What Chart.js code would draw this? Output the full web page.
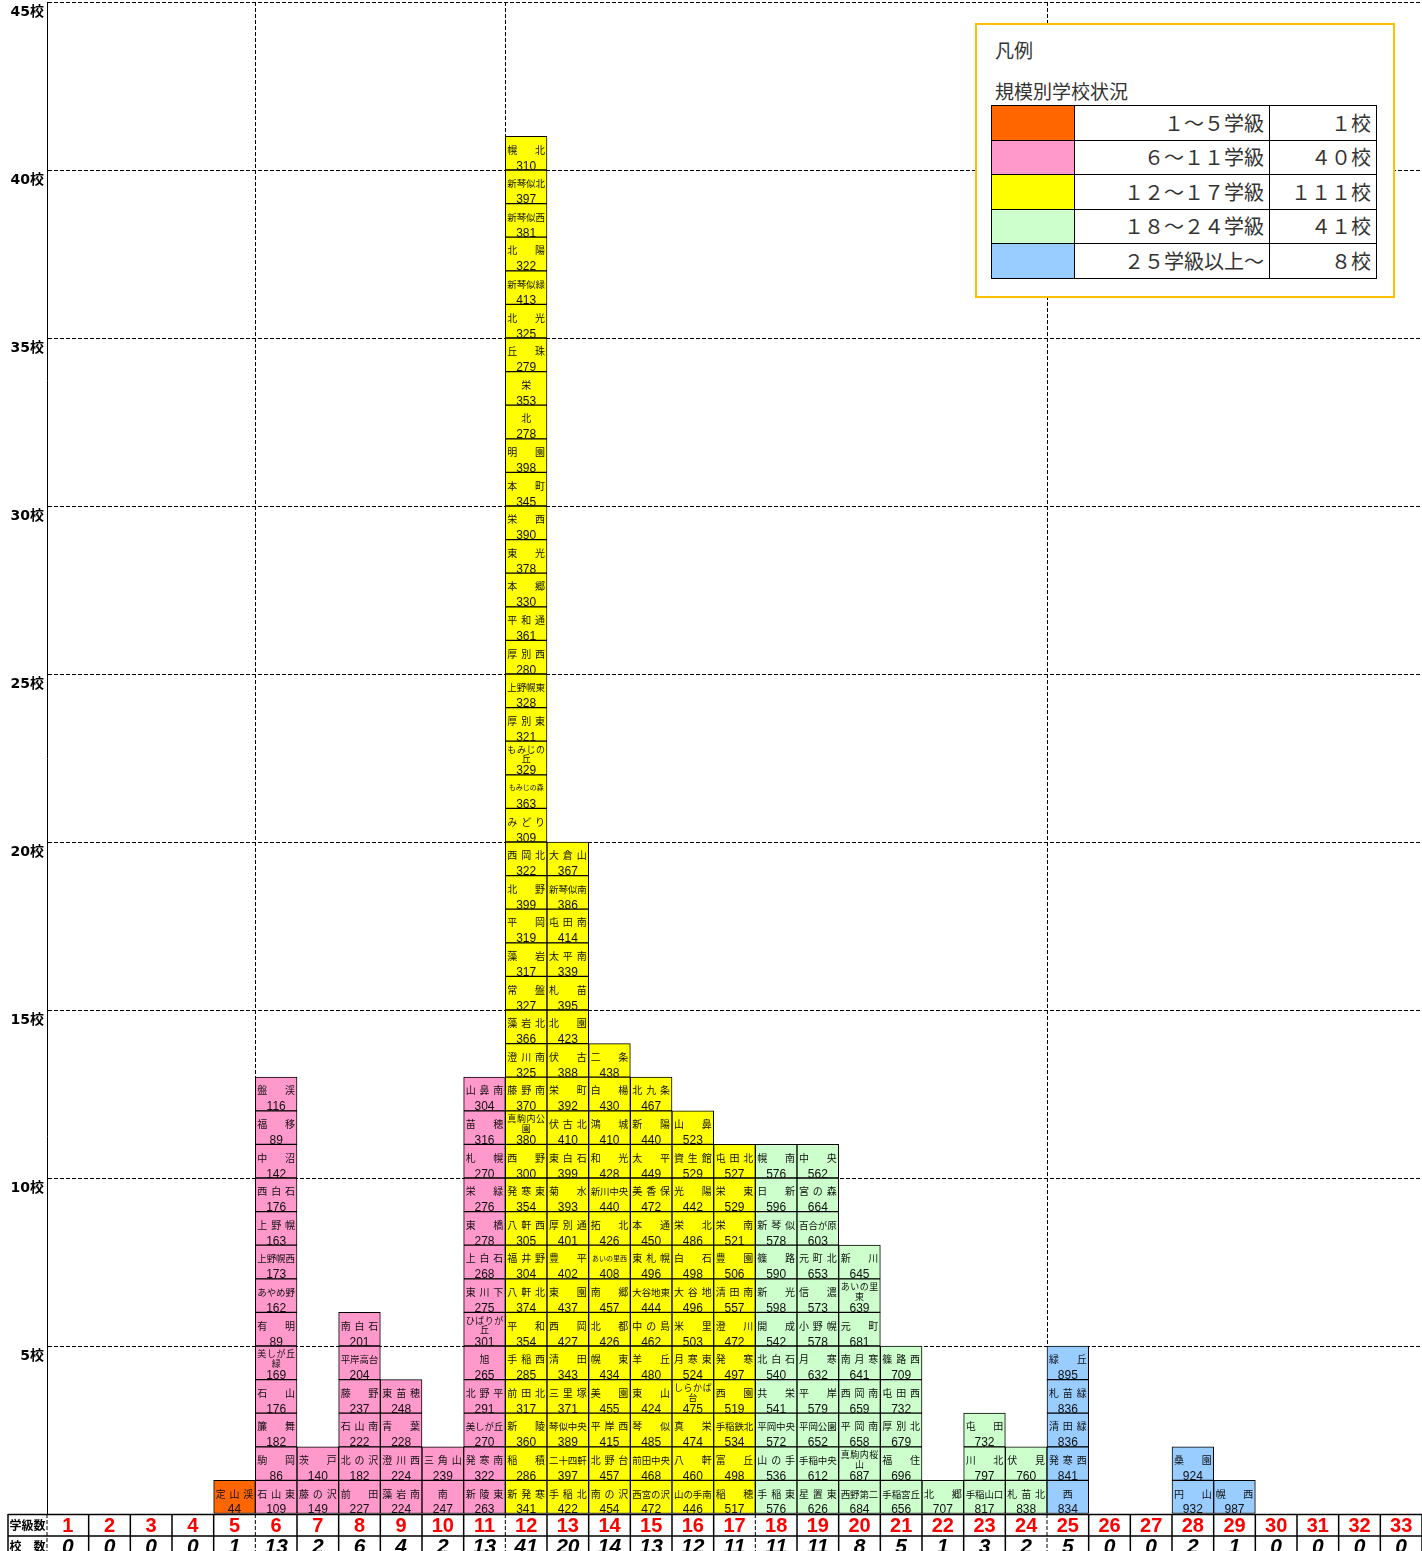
<!DOCTYPE html>
<html lang="ja">
<head>
<meta charset="utf-8">
<title>規模別学校状況</title>
<script src="https://cdn.jsdelivr.net/npm/chart.js@4.4.1/dist/chart.umd.min.js"></script>
<style>
  body { margin: 0; background: #fff; }
  #wrap { position: relative; width: 1422px; height: 1551px; overflow: hidden; }
  #legendBox {
    position: absolute; left: 975px; top: 23px; width: 416px; height: 271px;
    border: 2px solid #FFC000; background: #fff;
    font-family: 'Noto Sans CJK JP', sans-serif; color: #333;
  }
  #legendBox .ttl { position: absolute; left: 18px; font-size: 19px; line-height: 19px; }
  #legendTable {
    position: absolute; left: 14px; top: 80px; border-collapse: collapse;
    font-size: 20px;
  }
  #legendTable td { border: 1.5px solid #000; height: 33.5px; padding: 0 5px; text-align: right; line-height: 20px; }
  #legendTable td.sw { width: 82px; padding: 0; }
  #legendTable td.lab { width: 184px; }
  #legendTable td.cnt { width: 96px; }
</style>
</head>
<body>
<div id="wrap">
  <canvas id="chart" width="1422" height="1551"></canvas>
  <div id="legendBox">
    <div class="ttl" style="top:15px">凡例</div>
    <div class="ttl" style="top:56px">規模別学校状況</div>
    <table id="legendTable"></table>
  </div>
</div>
<script>
// 学級数 (横軸のカテゴリ)
const classLabels = ['1','2','3','4','5','6','7','8','9','10','11','12','13','14','15','16','17',
  '18','19','20','21','22','23','24','25','26','27','28','29','30','31','32','33'];

// 学級数ごとの学校名と児童数 (下から上へ)
const names5 = ['定山渓'];
const pupils5 = [44];
const names6 = ['石山東','駒岡','簾舞','石山','美しが丘\n緑','有明','あやめ野','上野幌西','上野幌','西白石','中沼','福移','盤渓'];
const pupils6 = [109, 86, 182, 176, 169, 89, 162, 173, 163, 176, 142, 89, 116];
const names7 = ['藤の沢','茨戸'];
const pupils7 = [149, 140];
const names8 = ['前田','北の沢','石山南','藤野','平岸高台','南白石'];
const pupils8 = [227, 182, 222, 237, 204, 201];
const names9 = ['藻岩南','澄川西','青葉','東苗穂'];
const pupils9 = [224, 224, 228, 248];
const names10 = ['南','三角山'];
const pupils10 = [247, 239];
const names11 = ['新陵東','発寒南','美しが丘','北野平','旭','ひばりが\n丘','東川下','上白石','東橋','栄緑','札幌','苗穂','山鼻南'];
const pupils11 = [263, 322, 270, 291, 265, 301, 275, 268, 278, 276, 270, 316, 304];
const names12 = ['新発寒','稲積','新陵','前田北','手稲西','平和','八軒北','福井野','八軒西','発寒東','西野',
  '真駒内公\n園','藤野南','澄川南','藻岩北','常盤','藻岩','平岡','北野','西岡北','みどり','もみじの森',
  'もみじの\n丘','厚別東','上野幌東','厚別西','平和通','本郷','東光','栄西','本町','明園','北','栄','丘珠',
  '北光','新琴似緑','北陽','新琴似西','新琴似北','幌北'];
const pupils12 = [341, 286, 360, 317, 285, 354, 374, 304, 305, 354, 300, 380, 370, 325, 366, 327, 317, 319,
  399, 322, 309, 363, 329, 321, 328, 280, 361, 330, 378, 390, 345, 398, 278, 353, 279, 325, 413, 322, 381, 397, 310];
const names13 = ['手稲北','二十四軒','琴似中央','三里塚','清田','西岡','東園','豊平','厚別通','菊水','東白石',
  '伏古北','栄町','伏古','北園','札苗','太平南','屯田南','新琴似南','大倉山'];
const pupils13 = [422, 397, 389, 371, 343, 427, 437, 402, 401, 393, 399, 410, 392, 388, 423, 395, 339, 414, 386, 367];
const names14 = ['南の沢','北野台','平岸西','美園','幌東','北都','南郷','あいの里西','拓北','新川中央','和光','鴻城','白楊','二条'];
const pupils14 = [454, 457, 415, 455, 434, 426, 457, 408, 426, 440, 428, 410, 430, 438];
const names15 = ['西宮の沢','前田中央','琴似','東山','羊丘','中の島','大谷地東','東札幌','本通','美香保','太平','新陽','北九条'];
const pupils15 = [472, 468, 485, 424, 480, 462, 444, 496, 450, 472, 449, 440, 467];
const names16 = ['山の手南','八軒','真栄','しらかば\n台','月寒東','米里','大谷地','白石','栄北','光陽','資生館','山鼻'];
const pupils16 = [446, 460, 474, 475, 524, 503, 496, 498, 486, 442, 529, 523];
const names17 = ['稲穂','富丘','手稲鉄北','西園','発寒','澄川','清田南','豊園','栄南','栄東','屯田北'];
const pupils17 = [517, 498, 534, 519, 497, 472, 557, 506, 521, 529, 527];
const names18 = ['手稲東','山の手','平岡中央','共栄','北白石','開成','新光','篠路','新琴似','日新','幌南'];
const pupils18 = [576, 536, 572, 541, 540, 542, 598, 590, 578, 596, 576];
const names19 = ['星置東','手稲中央','平岡公園','平岸','月寒','小野幌','信濃','元町北','百合が原','宮の森','中央'];
const pupils19 = [626, 612, 652, 579, 632, 578, 573, 653, 603, 664, 562];
const names20 = ['西野第二','真駒内桜\n山','平岡南','西岡南','南月寒','元町','あいの里\n東','新川'];
const pupils20 = [684, 687, 658, 659, 641, 681, 639, 645];
const names21 = ['手稲宮丘','福住','厚別北','屯田西','篠路西'];
const pupils21 = [656, 696, 679, 732, 709];
const names22 = ['北郷'];
const pupils22 = [707];
const names23 = ['手稲山口','川北','屯田'];
const pupils23 = [817, 797, 732];
const names24 = ['札苗北','伏見'];
const pupils24 = [838, 760];
const names25 = ['西','発寒西','清田緑','札苗緑','緑丘'];
const pupils25 = [834, 841, 836, 836, 895];
const names28 = ['円山','桑園'];
const pupils28 = [932, 924];
const names29 = ['幌西'];
const pupils29 = [987];

// 凡例
const legendColors = ['#FF6600', '#FF99CC', '#FFFF00', '#CCFFCC', '#99CCFF'];
const legendLabels = ['１～５学級', '６～１１学級', '１２～１７学級', '１８～２４学級', '２５学級以上～'];
const legendCounts = ['１校', '４０校', '１１１校', '４１校', '８校'];

const namesByClass = { 5: names5, 6: names6, 7: names7, 8: names8, 9: names9, 10: names10, 11: names11,
  12: names12, 13: names13, 14: names14, 15: names15, 16: names16, 17: names17, 18: names18, 19: names19,
  20: names20, 21: names21, 22: names22, 23: names23, 24: names24, 25: names25, 28: names28, 29: names29 };
const pupilsByClass = { 5: pupils5, 6: pupils6, 7: pupils7, 8: pupils8, 9: pupils9, 10: pupils10, 11: pupils11,
  12: pupils12, 13: pupils13, 14: pupils14, 15: pupils15, 16: pupils16, 17: pupils17, 18: pupils18, 19: pupils19,
  20: pupils20, 21: pupils21, 22: pupils22, 23: pupils23, 24: pupils24, 25: pupils25, 28: pupils28, 29: pupils29 };

const columns = classLabels.map(l => ({ names: namesByClass[l] || [], pupils: pupilsByClass[l] || [] }));
const schoolCounts = columns.map(c => c.names.length);

function groupColor(cls) {
  if (cls <= 5) return legendColors[0];
  if (cls <= 11) return legendColors[1];
  if (cls <= 17) return legendColors[2];
  if (cls <= 24) return legendColors[3];
  return legendColors[4];
}

// one stacked dataset per level: each school is one unit cell
const maxLevel = Math.max(...schoolCounts);
const datasets = [];
for (let k = 0; k < maxLevel; k++) {
  datasets.push({
    data: columns.map(c => (k < c.names.length ? 1 : null)),
    backgroundColor: classLabels.map(l => groupColor(+l)),
    borderColor: '#000',
    borderWidth: 1,
    borderSkipped: false,
    barPercentage: 1,
    categoryPercentage: 1
  });
}

// legend table
const lt = document.getElementById('legendTable');
legendLabels.forEach((lab, i) => {
  const tr = document.createElement('tr');
  tr.innerHTML = '<td class="sw" style="background:' + legendColors[i] + '"></td><td class="lab">' + lab +
    '</td><td class="cnt">' + legendCounts[i] + '</td>';
  lt.appendChild(tr);
});

// spread characters over the cell width, like distributed alignment
function spreadText(ctx, text, left, w, cy) {
  const chars = [...text];
  if (chars.length === 1) {
    ctx.fillText(text, left + w / 2, cy);
    return;
  }
  const pad = 2;
  const cw = ctx.measureText(chars[0]).width;
  const span = w - 2 * pad - cw;
  chars.forEach((c, j) => {
    ctx.fillText(c, left + pad + cw / 2 + span * j / (chars.length - 1), cy);
  });
}

const cellLabels = {
  id: 'cellLabels',
  afterDatasetsDraw(chart) {
    const ctx = chart.ctx;
    ctx.save();
    ctx.fillStyle = '#111';
    ctx.textAlign = 'center';
    chart.data.datasets.forEach((ds, k) => {
      const meta = chart.getDatasetMeta(k);
      meta.data.forEach((bar, i) => {
        if (ds.data[i] == null) return;
        const name = columns[i].names[k];
        const pupils = columns[i].pupils[k];
        const p = bar.getProps(['x', 'y', 'base', 'width'], true);
        const top = Math.min(p.y, p.base);
        const bottom = Math.max(p.y, p.base);
        const left = p.x - p.width / 2;
        const lines = name.split('\n');
        ctx.textBaseline = 'middle';
        if (lines.length > 1) {
          ctx.font = '9px "Noto Sans CJK JP", sans-serif';
          spreadText(ctx, lines[0], left, p.width, top + 8);
          spreadText(ctx, lines[1], left, p.width, top + 17.5);
        } else if ([...name].length >= 5) {
          ctx.font = '7px "Noto Sans CJK JP", sans-serif';
          ctx.fillText(name, p.x, top + 13);
        } else {
          const n = [...name].length;
          ctx.font = (n >= 4 ? '9.5px' : '10px') + ' "Noto Sans CJK JP", sans-serif';
          spreadText(ctx, name, left, p.width, top + 13.5);
        }
        ctx.textBaseline = 'alphabetic';
        ctx.font = '12px "Liberation Sans", Arial, sans-serif';
        ctx.fillText(String(pupils), p.x, bottom - 0.5);
      });
    });
    ctx.restore();
  }
};

// 学級数 / 校数 table under the plot
const countTable = {
  id: 'countTable',
  afterDraw(chart) {
    const ctx = chart.ctx;
    const x = chart.scales.x;
    const area = chart.chartArea;
    const top = area.bottom;
    const mid = top + 22;
    const bottom = chart.height + 2;
    const step = (area.right - area.left) / classLabels.length;
    const tableLeft = 8;
    ctx.save();
    ctx.strokeStyle = '#000';
    ctx.lineWidth = 1.5;
    ctx.beginPath();
    ctx.moveTo(tableLeft, top + 0.5); ctx.lineTo(area.right, top + 0.5);
    ctx.moveTo(tableLeft, mid); ctx.lineTo(area.right, mid);
    ctx.moveTo(tableLeft, top); ctx.lineTo(tableLeft, bottom);
    ctx.stroke();
    const dashed = [5, 11, 17, 24];
    for (let i = 0; i <= classLabels.length; i++) {
      const bx = x.getPixelForValue(i) - step / 2;
      ctx.setLineDash(i === 0 || dashed.includes(i) ? [4, 2] : []);
      ctx.lineWidth = dashed.includes(i) || i === 0 ? 1 : 1.5;
      ctx.beginPath();
      ctx.moveTo(bx, top); ctx.lineTo(bx, bottom);
      ctx.stroke();
    }
    ctx.setLineDash([]);
    ctx.fillStyle = '#000';
    ctx.textAlign = 'center';
    ctx.textBaseline = 'middle';
    ctx.font = 'bold 12px "Noto Sans CJK JP", sans-serif';
    ctx.fillText('学級数', (tableLeft + area.left) / 2, top + 11);
    ctx.fillText('校　数', (tableLeft + area.left) / 2, mid + 10);
    ctx.font = 'italic bold 21px "Liberation Sans", Arial, sans-serif';
    ctx.textBaseline = 'top';
    schoolCounts.forEach((c, i) => {
      ctx.fillText(String(c), x.getPixelForValue(i), mid + 1);
    });
    ctx.restore();
  }
};

new Chart(document.getElementById('chart'), {
  type: 'bar',
  data: { labels: classLabels, datasets: datasets },
  options: {
    responsive: false,
    animation: false,
    layout: { padding: { top: 2, right: 0, left: 0, bottom: 0 } },
    plugins: { legend: { display: false }, tooltip: { enabled: false } },
    scales: {
      x: {
        stacked: true,
        offset: true,
        grid: {
          offset: true,
          drawTicks: false,
          lineWidth: 1,
          color: ctx => ([5, 11, 24].includes(ctx.index) ? '#000' : 'rgba(0,0,0,0)')
        },
        border: { display: false, dash: [4, 2] },
        ticks: {
          color: '#FF0000',
          font: { size: 20, weight: 'bold', family: '"Liberation Sans", Arial, sans-serif' },
          padding: 0,
          autoSkip: false,
          maxRotation: 0
        },
        afterFit: s => { s.height = 37; s.paddingLeft = 0; s.paddingRight = 0; }
      },
      y: {
        stacked: true,
        min: 0,
        max: 45,
        grid: { color: '#000', lineWidth: 1, drawTicks: false },
        border: { display: true, color: '#000', width: 1, dash: [4, 2] },
        ticks: {
          stepSize: 5,
          padding: 3,
          labelOffset: 10,
          color: '#000',
          font: { size: 14, weight: 'bold', family: '"DejaVu Sans", "Noto Sans CJK JP", sans-serif' },
          callback: v => (v === 0 ? '' : v + '校')
        },
        afterFit: s => { s.width = 47; s.paddingTop = 0; s.paddingBottom = 0; }
      }
    }
  },
  plugins: [cellLabels, countTable]
});
</script>
</body>
</html>
